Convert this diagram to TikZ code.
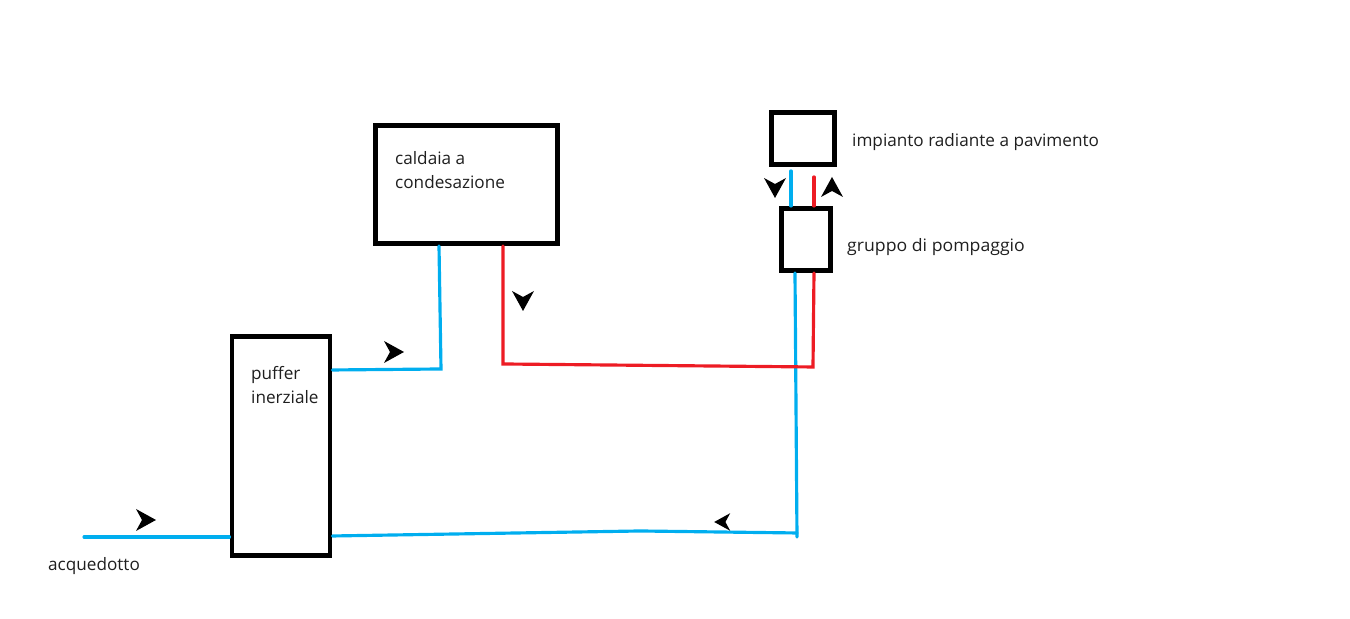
\documentclass[tikz,border=0pt]{standalone}
\usepackage{fontspec}
\setmainfont{Open Sans}
\usepackage{tikz}
\definecolor{coldpipe}{HTML}{00AEEF}
\definecolor{hotpipe}{HTML}{ED1C24}
\tikzset{
  unitbox/.style={draw=black, line width=1.42pt, minimum width=#1, inner sep=0pt},
  cold/.style={draw=coldpipe, line width=0.9pt, line cap=round},
  hot/.style={draw=hotpipe, line width=0.9pt, line cap=round},
  lbl/.style={anchor=west, inner sep=0pt, align=left, text=black!88, font=\fontsize{4.88}{6.8}\selectfont},
  flowhead/.pic={\fill[black] (-.09,.11) -- (.11,0) -- (-.09,-.11) -- (-.03,0) -- cycle;}
}
\begin{document}
\begin{tikzpicture}
\useasboundingbox (0,0) rectangle (13.5,6.19);

% boxes
\node (caldaia) at (4.665,4.345) [unitbox=1.82cm, minimum height=1.18cm] {};
\node (radiante) at (8.03,4.805) [unitbox=0.63cm, minimum height=0.52cm] {};
\node (gruppo) at (8.06,3.795) [unitbox=0.49cm, minimum height=0.62cm] {};
\node (puffer) at (2.81,1.73) [unitbox=0.98cm, minimum height=2.19cm] {};

% labels
\node (tcaldaia) at (3.945,4.49) [lbl] {caldaia a\\condesazione};
\node (tpuffer) at (2.505,2.34) [lbl] {puffer\\inerziale};
\node (tradiante) at (8.515,4.77) [lbl] {impianto radiante a pavimento};
\node (tgruppo) at (8.465,3.72) [lbl, xscale=1.03] {gruppo di pompaggio};
\node (tacq) at (0.475,0.525) [lbl] {acquedotto};

% junctions
\coordinate (aout) at (4.39,3.68);
\coordinate (bend) at (6.4,.88);
\coordinate (rleft) at (5.03,2.55);
\coordinate (rright) at (8.13,2.52);
\coordinate (bright) at (7.97,.86);
\coordinate (acq) at (0.84,.82);
\coordinate (j1) at (4.41,2.5);

% cold pipes
\draw[cold] (caldaia.south -| aout) -- (j1) -- (puffer.east |- 0,2.49);
\draw[cold] (acq) -- (puffer.west |- acq);
\draw[cold] (puffer.east |- 0,.83) -- (bend) -- (bright);
\draw[cold] (gruppo.south -| 7.95,0) -- (7.97,.82);
\draw[cold, shorten <=.04cm] (radiante.south -| 7.91,0) -- (gruppo.north -| 7.91,0);

% hot pipes
\draw[hot] (caldaia.south -| rleft) -- (rleft) -- (rright) -- (gruppo.south -| 8.14,0);
\draw[hot, shorten >=.1cm] (gruppo.north -| 8.14,0) -- (radiante.south -| 8.14,0);

% flow arrows
\pic at (3.93,2.67) {flowhead};
\pic at (5.23,3.19) [rotate=-90] {flowhead};
\pic at (7.75,4.32) [rotate=-90] {flowhead};
\pic at (8.32,4.31) [rotate=90] {flowhead};
\pic at (1.45,.99) {flowhead};
\pic at (7.23,.97) [rotate=180, scale=.8] {flowhead};
\end{tikzpicture}
\end{document}
